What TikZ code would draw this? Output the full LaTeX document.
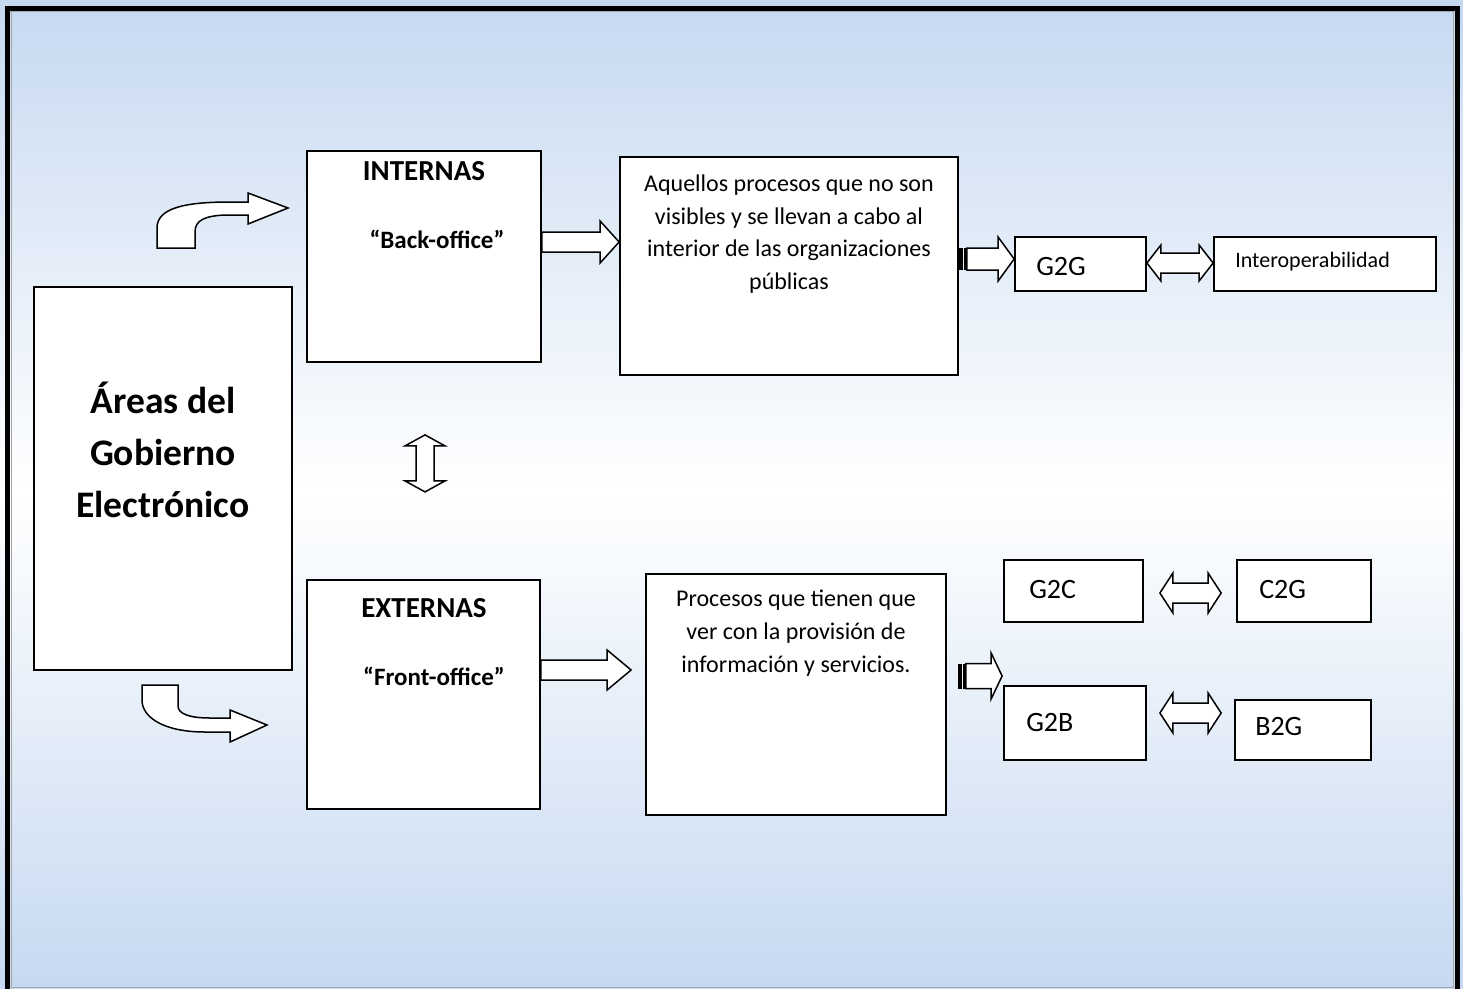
\documentclass[tikz,border=0pt]{standalone}
\usepackage{fontspec}
\setmainfont{Carlito}
\usetikzlibrary{calc,positioning}
\definecolor{bgblue}{RGB}{198,217,241}

\tikzset{
  box/.style={draw=black, fill=white, line width=1.8pt, inner sep=0pt},
  blockarrow/.style={draw=black, fill=white, line width=1.5pt, line join=miter},
  heading/.style={font=\bfseries\fontsize{29}{32}\selectfont, inner sep=0pt},
  quoted/.style={font=\bfseries\fontsize{25}{30}\selectfont, inner sep=0pt},
  body/.style={font=\fontsize{24}{32.7}\selectfont, align=center, inner sep=0pt},
  tag/.style={font=\fontsize{28}{32}\selectfont, inner sep=0pt, anchor=west},
}

% right block arrow: tail, tip, half shaft, half head, head length
\newcommand{\rblock}[5]{%
  \draw[blockarrow] ($(#1)+(0,-#3)$) -- ($(#2)+(-#5,-#3)$) -- ($(#2)+(-#5,-#4)$) -- (#2)
    -- ($(#2)+(-#5,#4)$) -- ($(#2)+(-#5,#3)$) -- ($(#1)+(0,#3)$) -- cycle;}
% same with the two black bars at the tail
\newcommand{\rstriped}[5]{%
  \fill ($(#1)+(0,-#3)$) rectangle ($(#1)+(4,#3)$);
  \fill ($(#1)+(5,-#3)$) rectangle ($(#1)+(8,#3)$);
  \coordinate (#1t) at ($(#1)+(8,0)$);
  \rblock{#1t}{#2}{#3}{#4}{#5}}
% horizontal double block arrow: left tip, right tip, half shaft, half head, head length
\newcommand{\hdblock}[5]{%
  \draw[blockarrow] (#1) -- ($(#1)+(#5,-#4)$) -- ($(#1)+(#5,-#3)$) -- ($(#2)+(-#5,-#3)$)
    -- ($(#2)+(-#5,-#4)$) -- (#2) -- ($(#2)+(-#5,#4)$) -- ($(#2)+(-#5,#3)$)
    -- ($(#1)+(#5,#3)$) -- ($(#1)+(#5,#4)$) -- cycle;}
% vertical double block arrow: top tip, bottom tip, ...
\newcommand{\vdblock}[5]{%
  \draw[blockarrow] (#1) -- ($(#1)+(#4,#5)$) -- ($(#1)+(#3,#5)$) -- ($(#2)+(#3,-#5)$)
    -- ($(#2)+(#4,-#5)$) -- (#2) -- ($(#2)+(-#4,-#5)$) -- ($(#2)+(-#3,-#5)$)
    -- ($(#1)+(-#3,#5)$) -- ($(#1)+(-#4,#5)$) -- cycle;}

\begin{document}
\begin{tikzpicture}[x=1pt, y=-1pt]
\useasboundingbox (0,0) rectangle (1463,988);
\shade[top color=bgblue, bottom color=bgblue, middle color=white] (0,0) rectangle (1463,988);
\draw[gray!70, line width=1pt] (11,11) rectangle (1453,987);
\draw[line width=5pt] (7.5,8) rectangle (1457,994);

% boxes
\node[box, minimum width=258pt, minimum height=383pt] (areas) at (163,478.5) {};
\node[box, minimum width=234pt, minimum height=211pt] (int) at (424,256.5) {};
\node[box, minimum width=338pt, minimum height=218pt] (aq) at (789,266) {};
\node[box, minimum width=131pt, minimum height=54pt] (g2g) at (1080.5,264) {};
\node[box, minimum width=222pt, minimum height=54pt] (interop) at (1325,264) {};
\node[box, minimum width=233pt, minimum height=229pt] (ext) at (423.5,694.5) {};
\node[box, minimum width=300pt, minimum height=241pt] (proc) at (796,694.5) {};
\node[box, minimum width=139pt, minimum height=62pt] (g2c) at (1073.5,591) {};
\node[box, minimum width=134pt, minimum height=62pt] (c2g) at (1304,591) {};
\node[box, minimum width=142pt, minimum height=74pt] (g2b) at (1075,723) {};
\node[box, minimum width=136pt, minimum height=60pt] (b2g) at (1303,730) {};

% texts
\node[font=\bfseries\fontsize{37.5}{52}\selectfont, align=center, inner sep=0pt] (areasT)
  at ($(areas.center)+(0,-29)$) {Áreas del\\Gobierno\\Electrónico};
\node[heading] (intT) at ($(int.north)+(0,21)$) {INTERNAS};
\node[quoted] (intB) at ($(int.north)+(13,89)$) {“Back-office”};
\node[heading] (extT) at ($(ext.north)+(0.5,29)$) {EXTERNAS};
\node[quoted] (extB) at ($(ext.north)+(10.5,97)$) {“Front-office”};
\node[body] (aqT) at ($(aq.north)+(0,78)$) {Aquellos procesos que no son\\visibles y se llevan a cabo al\\interior de las organizaciones\\públicas};
\node[body] (procT) at ($(proc.north)+(0,60)$) {Procesos que tienen que\\ver con la provisión de\\información y servicios.};
\node[tag] (g2gT) at ($(g2g.west)+(22,3)$) {G2G};
\node[tag, font=\fontsize{22}{26}\selectfont] (interopT) at ($(interop.west)+(22,-2)$) {Interoperabilidad};
\node[tag] (g2cT) at ($(g2c.west)+(26,-1)$) {G2C};
\node[tag] (c2gT) at ($(c2g.west)+(23,-1)$) {C2G};
\node[tag] (g2bT) at ($(g2b.west)+(23,-1)$) {G2B};
\node[tag] (b2gT) at ($(b2g.west)+(21,-4)$) {B2G};

% curved arrows out of the big box
\draw[blockarrow] (157,248) -- (157,228) .. controls (157,208) and (185,202) .. (230,202)
  -- (248,202) -- (248,193) -- (288,208) -- (248,224) -- (248,215) -- (225,215)
  .. controls (205,216) and (195,220) .. (195,232) -- (195,248) -- cycle;
\draw[blockarrow] (142,685) -- (178,685) -- (178,706) .. controls (178,714) and (190,718) .. (210,718)
  -- (230,718) -- (230,710) -- (267,725) -- (230,742) -- (230,732) -- (205,732)
  .. controls (165,732) and (142,718) .. (142,700) -- cycle;

% straight block arrows
\coordinate (a1) at ($(int.east)+(0,-14.5)$);
\coordinate (a1e) at (a1 -| aq.west);
\rblock{a1}{a1e}{10}{21}{19}
\coordinate (a2) at ($(ext.east)+(0,-24.5)$);
\coordinate (a2e) at ($(a2 -| proc.west)+(-14,0)$);
\rblock{a2}{a2e}{10}{20}{24}
\coordinate (a3) at ($(aq.east)+(0,-7)$);
\coordinate (a3e) at (a3 -| g2g.west);
\rstriped{a3}{a3e}{11}{22}{16}
\coordinate (a4) at ($(proc.east)+(11,-18.5)$);
\coordinate (a4e) at ($(a4 -| g2b.west)+(-1,0)$);
\rstriped{a4}{a4e}{12.5}{23}{11}

% double arrows
\coordinate (d1) at ($(g2g.east)+(0,-1)$);
\coordinate (d1e) at (d1 -| interop.west);
\hdblock{d1}{d1e}{10}{18}{14}
\coordinate (d2) at ($(g2c.east)+(16,2)$);
\coordinate (d2e) at ($(d2 -| c2g.west)+(-15,0)$);
\hdblock{d2}{d2e}{10}{20}{13}
\coordinate (d3) at ($(g2b.east)+(13,-10)$);
\coordinate (d3e) at ($(d3 -| b2g.west)+(-13,0)$);
\hdblock{d3}{d3e}{10}{20}{13}
\coordinate (v1) at ($(int.south)+(1,72)$);
\coordinate (v2) at ($(v1)+(0,57)$);
\vdblock{v1}{v2}{9}{20}{11}

\end{tikzpicture}
\end{document}
